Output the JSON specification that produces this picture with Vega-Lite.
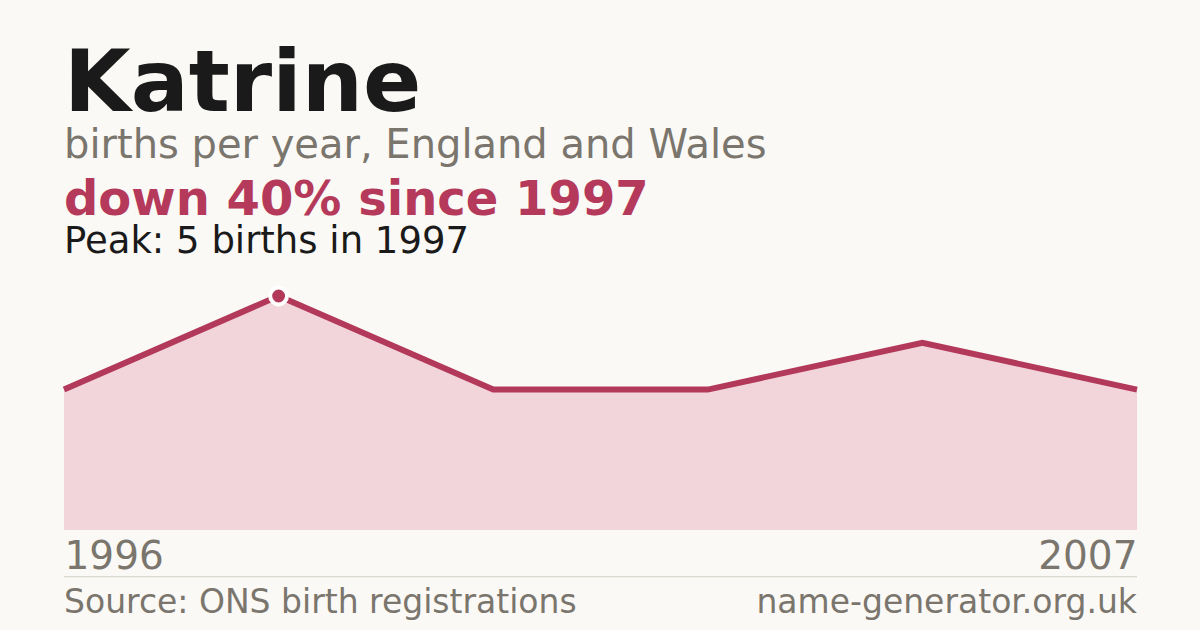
{
  "$schema": "https://vega.github.io/schema/vega-lite/v6.json",
  "background": "#faf9f5",
  "padding": {"left": 52, "right": 51, "top": 41, "bottom": 10},
  "title": {
    "text": "Katrine",
    "subtitle": "births per year, England and Wales",
    "anchor": "start",
    "frame": "group",
    "font": "DejaVu Sans",
    "fontSize": 86,
    "fontWeight": "bold",
    "color": "#1a1a1a",
    "subtitleFont": "DejaVu Sans",
    "subtitleFontSize": 40,
    "subtitleColor": "#7a756d",
    "subtitlePadding": -3,
    "offset": 10
  },
  "datasets": {
    "births": [
      {"year": "1996", "births": 3},
      {"year": "1997", "births": 5},
      {"year": "1999", "births": 3},
      {"year": "2002", "births": 3},
      {"year": "2005", "births": 4},
      {"year": "2007", "births": 3}
    ],
    "footer": [
      {"label": "Source: ONS birth registrations", "side": 0},
      {"label": "name-generator.org.uk", "side": 1}
    ]
  },
  "vconcat": [
    {
      "width": 1073,
      "height": 234,
      "title": {
        "text": "down 40% since 1997",
        "subtitle": "Peak: 5 births in 1997",
        "anchor": "start",
        "frame": "group",
        "font": "DejaVu Sans",
        "fontSize": 48,
        "fontWeight": "bold",
        "color": "#b5395a",
        "subtitleFont": "DejaVu Sans",
        "subtitleFontSize": 37,
        "subtitleColor": "#1a1a1a",
        "subtitlePadding": -1,
        "offset": 20
      },
      "data": {"name": "births"},
      "encoding": {
        "x": {
          "field": "year",
          "type": "ordinal",
          "scale": {"type": "point", "padding": 0},
          "axis": {
            "title": null,
            "domain": false,
            "ticks": false,
            "labelAngle": 0,
            "labelFont": "DejaVu Sans",
            "labelFontSize": 39,
            "labelColor": "#7a756d",
            "labelPadding": 7,
            "labelExpr": "datum.value == '1996' || datum.value == '2007' ? datum.label : ''",
            "labelAlign": {"condition": {"test": "datum.value == '1996'", "value": "left"}, "value": "right"}
          }
        },
        "y": {
          "field": "births",
          "type": "quantitative",
          "scale": {"domain": [0, 5], "nice": false},
          "axis": null
        }
      },
      "layer": [
        {
          "mark": {
            "type": "area",
            "color": "#f2d5da",
            "opacity": 1,
            "fillOpacity": 1,
            "line": {"color": "#b3395a", "strokeWidth": 6}
          }
        },
        {
          "transform": [{"filter": "datum.births == 5"}],
          "mark": {
            "type": "point",
            "shape": "circle",
            "filled": true,
            "size": 284,
            "color": "#b3395a",
            "stroke": "#ffffff",
            "strokeWidth": 4,
            "opacity": 1
          }
        }
      ]
    },
    {
      "width": 1073,
      "height": 33,
      "data": {"name": "footer"},
      "layer": [
        {
          "mark": {"type": "rule", "color": "#dcd9d2", "strokeWidth": 1},
          "encoding": {"y": {"datum": 1.1, "type": "quantitative", "scale": {"domain": [0, 1]}, "axis": null}}
        },
        {
          "transform": [{"filter": "datum.side == 0"}],
          "mark": {"type": "text", "align": "left", "baseline": "alphabetic", "font": "DejaVu Sans", "fontSize": 33, "color": "#7a756d"},
          "encoding": {
            "x": {"field": "side", "type": "quantitative", "scale": {"domain": [0, 1]}, "axis": null},
            "y": {"datum": 0, "type": "quantitative", "scale": {"domain": [0, 1]}, "axis": null},
            "text": {"field": "label"}
          }
        },
        {
          "transform": [{"filter": "datum.side == 1"}],
          "mark": {"type": "text", "align": "right", "baseline": "alphabetic", "font": "DejaVu Sans", "fontSize": 33, "color": "#7a756d"},
          "encoding": {
            "x": {"field": "side", "type": "quantitative", "scale": {"domain": [0, 1]}, "axis": null},
            "y": {"datum": 0, "type": "quantitative", "scale": {"domain": [0, 1]}, "axis": null},
            "text": {"field": "label"}
          }
        }
      ]
    }
  ],
  "config": {
    "view": {"stroke": null},
    "concat": {"spacing": 0}
  }
}
